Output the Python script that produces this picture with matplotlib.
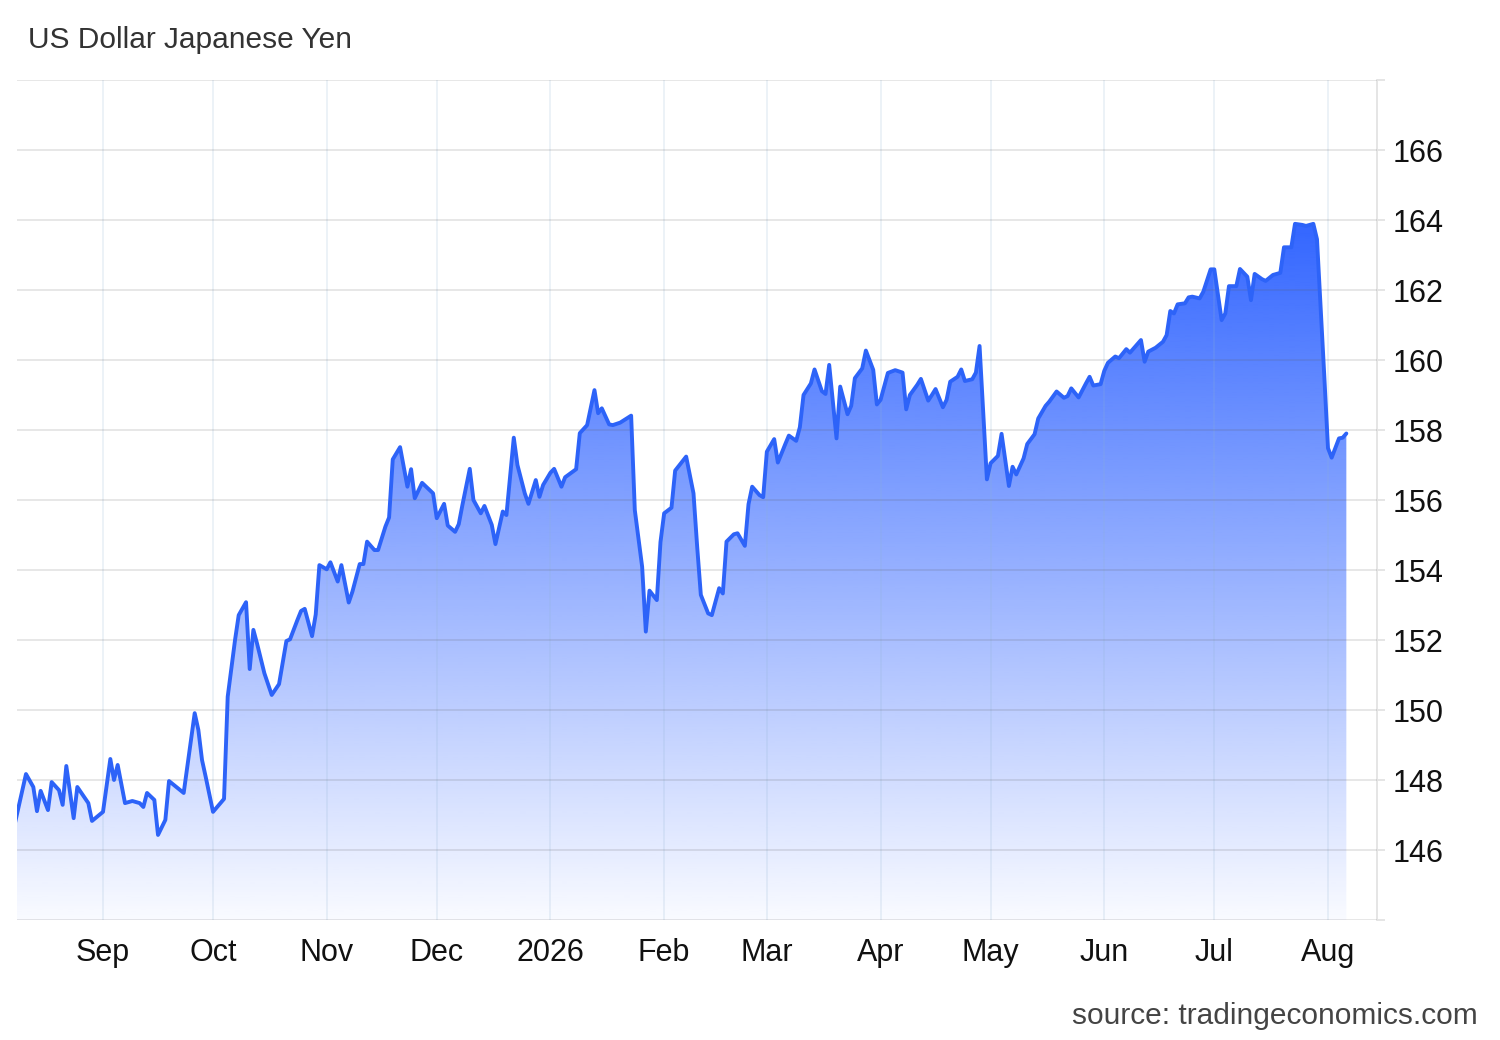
import matplotlib
matplotlib.use("Agg")
import matplotlib.pyplot as plt
import matplotlib.dates as mdates
import numpy as np
import pandas as pd
from matplotlib.ticker import FixedLocator, FuncFormatter

plt.rcParams["font.family"] = ["Liberation Sans", "DejaVu Sans"]

TITLE = "US Dollar Japanese Yen"
SOURCE = "source: tradingeconomics.com"

# USD/JPY (approximate daily closes)
dates = [
    "2025-08-08", "2025-08-11", "2025-08-13", "2025-08-14", "2025-08-15", "2025-08-17",
    "2025-08-18", "2025-08-20", "2025-08-21", "2025-08-22", "2025-08-24", "2025-08-25",
    "2025-08-27", "2025-08-28", "2025-08-29",
    "2025-09-01", "2025-09-03", "2025-09-04", "2025-09-05", "2025-09-07", "2025-09-09",
    "2025-09-11", "2025-09-12", "2025-09-13", "2025-09-15", "2025-09-16", "2025-09-18",
    "2025-09-19", "2025-09-21", "2025-09-23", "2025-09-26", "2025-09-27", "2025-09-28",
    "2025-09-29",
    "2025-10-01", "2025-10-04", "2025-10-05", "2025-10-07", "2025-10-08", "2025-10-10",
    "2025-10-11", "2025-10-12", "2025-10-13", "2025-10-15", "2025-10-17", "2025-10-19",
    "2025-10-21", "2025-10-22", "2025-10-24", "2025-10-25", "2025-10-26", "2025-10-28",
    "2025-10-29", "2025-10-30",
    "2025-11-01", "2025-11-02", "2025-11-04", "2025-11-05", "2025-11-07", "2025-11-08",
    "2025-11-10", "2025-11-11", "2025-11-12", "2025-11-14", "2025-11-15", "2025-11-17",
    "2025-11-18", "2025-11-19", "2025-11-21", "2025-11-23", "2025-11-24", "2025-11-25",
    "2025-11-27", "2025-11-30",
    "2025-12-01", "2025-12-03", "2025-12-04", "2025-12-06", "2025-12-07", "2025-12-08",
    "2025-12-10", "2025-12-11", "2025-12-13", "2025-12-14", "2025-12-16", "2025-12-17",
    "2025-12-19", "2025-12-20", "2025-12-22", "2025-12-23", "2025-12-25", "2025-12-26",
    "2025-12-28", "2025-12-29", "2025-12-30",
    "2026-01-01", "2026-01-02", "2026-01-04", "2026-01-05", "2026-01-08", "2026-01-09",
    "2026-01-11", "2026-01-13", "2026-01-14", "2026-01-15", "2026-01-17", "2026-01-18",
    "2026-01-20", "2026-01-23", "2026-01-24", "2026-01-26", "2026-01-27", "2026-01-28",
    "2026-01-30", "2026-01-31",
    "2026-02-01", "2026-02-03", "2026-02-04", "2026-02-07", "2026-02-09", "2026-02-10",
    "2026-02-11", "2026-02-13", "2026-02-14", "2026-02-16", "2026-02-17", "2026-02-18",
    "2026-02-20", "2026-02-21", "2026-02-23", "2026-02-24", "2026-02-25", "2026-02-27",
    "2026-02-28",
    "2026-03-01", "2026-03-03", "2026-03-04", "2026-03-06", "2026-03-07", "2026-03-09",
    "2026-03-10", "2026-03-11", "2026-03-13", "2026-03-14", "2026-03-16", "2026-03-17",
    "2026-03-18", "2026-03-20", "2026-03-21", "2026-03-23", "2026-03-24", "2026-03-25",
    "2026-03-27", "2026-03-28", "2026-03-30", "2026-03-31",
    "2026-04-01", "2026-04-03", "2026-04-05", "2026-04-07", "2026-04-08", "2026-04-09",
    "2026-04-11", "2026-04-12", "2026-04-14", "2026-04-15", "2026-04-16", "2026-04-18",
    "2026-04-19", "2026-04-20", "2026-04-22", "2026-04-23", "2026-04-24", "2026-04-26",
    "2026-04-27", "2026-04-28", "2026-04-30",
    "2026-05-01", "2026-05-03", "2026-05-04", "2026-05-06", "2026-05-07", "2026-05-08",
    "2026-05-10", "2026-05-11", "2026-05-13", "2026-05-14", "2026-05-16", "2026-05-17",
    "2026-05-19", "2026-05-21", "2026-05-22", "2026-05-23", "2026-05-25", "2026-05-27",
    "2026-05-28", "2026-05-29", "2026-05-31",
    "2026-06-01", "2026-06-02", "2026-06-04", "2026-06-05", "2026-06-07", "2026-06-08",
    "2026-06-11", "2026-06-12", "2026-06-13", "2026-06-15", "2026-06-17", "2026-06-18",
    "2026-06-19", "2026-06-20", "2026-06-21", "2026-06-23", "2026-06-24", "2026-06-25",
    "2026-06-27", "2026-06-28", "2026-06-30",
    "2026-07-01", "2026-07-03", "2026-07-04", "2026-07-05", "2026-07-07", "2026-07-08",
    "2026-07-10", "2026-07-11", "2026-07-12", "2026-07-14", "2026-07-15", "2026-07-17",
    "2026-07-19", "2026-07-20", "2026-07-22", "2026-07-23", "2026-07-25", "2026-07-26",
    "2026-07-28", "2026-07-29", "2026-07-31",
    "2026-08-01", "2026-08-02", "2026-08-04", "2026-08-05", "2026-08-06",
]

prices = [
    146.77, 148.17, 147.80, 147.11, 147.69, 147.14,
    147.94, 147.71, 147.29, 148.40, 146.91, 147.80,
    147.49, 147.34, 146.83,
    147.09, 148.60, 148.00, 148.43, 147.34, 147.40,
    147.34, 147.23, 147.63, 147.43, 146.43, 146.86,
    147.97, 147.80, 147.63, 149.91, 149.43, 148.57,
    148.09,
    147.09, 147.46, 150.38, 152.00, 152.71, 153.08,
    151.17, 152.29, 151.90, 151.05, 150.43, 150.74,
    151.97, 152.02, 152.57, 152.83, 152.89, 152.11,
    152.73, 154.14,
    154.02, 154.22, 153.67, 154.14, 153.07, 153.38,
    154.17, 154.17, 154.81, 154.57, 154.57, 155.24,
    155.50, 157.16, 157.51, 156.38, 156.88, 156.05,
    156.49, 156.19,
    155.48, 155.89, 155.27, 155.09, 155.31, 155.86,
    156.89, 156.00, 155.62, 155.83, 155.29, 154.74,
    155.67, 155.57, 157.78, 157.00, 156.19, 155.89,
    156.57, 156.09, 156.43,
    156.78, 156.89, 156.38, 156.65, 156.88, 157.91,
    158.14, 159.14, 158.48, 158.62, 158.16, 158.14,
    158.21, 158.41, 155.71, 154.09, 152.24, 153.41,
    153.14, 154.80,
    155.62, 155.78, 156.84, 157.24, 156.19, 154.67,
    153.29, 152.76, 152.71, 153.48, 153.33, 154.81,
    155.02, 155.05, 154.69, 155.88, 156.38, 156.14,
    156.08,
    157.38, 157.74, 157.07, 157.59, 157.84, 157.69,
    158.08, 159.00, 159.33, 159.73, 159.11, 159.03,
    159.86, 157.76, 159.24, 158.45, 158.69, 159.48,
    159.76, 160.27, 159.72, 158.73,
    158.86, 159.63, 159.71, 159.64, 158.59, 159.00,
    159.29, 159.46, 158.84, 159.00, 159.17, 158.65,
    158.86, 159.38, 159.52, 159.73, 159.40, 159.45,
    159.64, 160.40, 156.59,
    157.05, 157.26, 157.89, 156.40, 156.95, 156.73,
    157.19, 157.60, 157.88, 158.33, 158.69, 158.81,
    159.10, 158.92, 158.97, 159.19, 158.93, 159.33,
    159.52, 159.27, 159.31,
    159.69, 159.92, 160.10, 160.05, 160.31, 160.21,
    160.57, 159.95, 160.24, 160.35, 160.52, 160.71,
    161.40, 161.33, 161.59, 161.62, 161.79, 161.81,
    161.76, 161.95, 162.59,
    162.59, 161.14, 161.33, 162.11, 162.11, 162.60,
    162.38, 161.71, 162.46, 162.31, 162.26, 162.43,
    162.49, 163.22, 163.22, 163.89, 163.86, 163.83,
    163.89, 163.45, 159.52,
    157.48, 157.21, 157.76, 157.78, 157.90,
]

y_ticks = list(range(144, 170, 2))
y_labelled = list(range(146, 168, 2))

LINE_COLOR = "#2d63f8"
FILL_TOP = np.array([0x33, 0x66, 0xff]) / 255.0

x = mdates.date2num(pd.to_datetime(dates))
y = np.array(prices)

fig = plt.figure(figsize=(15, 10.4), dpi=100)
ax = fig.add_axes([17 / 1500, 1 - 920 / 1040, (1377 - 17) / 1500, (920 - 80) / 1040])

sep1 = mdates.date2num(pd.Timestamp("2025-09-01"))
aug1 = mdates.date2num(pd.Timestamp("2026-08-01"))
px_per_day = (1328 - 103) / (aug1 - sep1)
xlim = (sep1 - (103 - 17) / px_per_day, aug1 + (1377 - 1328) / px_per_day)

# gradient area under the line
ymin, ymax = 144, y.max()
n = 256
grad = np.ones((n, 1, 4))
grad[..., :3] = FILL_TOP
grad[..., 3] = np.linspace(1.0, 0.03, n)[:, None]
area = ax.fill_between(x, y, ymin, color="none", lw=0)
img = ax.imshow(grad, aspect="auto", extent=[x[0], x[-1], ymin, ymax],
                origin="upper", zorder=1, interpolation="bilinear")
img.set_clip_path(area.get_paths()[0], transform=ax.transData)

ax.plot(x, y, color=LINE_COLOR, lw=2.8, zorder=3,
        solid_joinstyle="round", solid_capstyle="round")

ax.set_xlim(*xlim)
ax.set_ylim(144, 168)

# axes styling
ax.set_axisbelow(False)
for side in ("left", "top", "bottom"):
    ax.spines[side].set_visible(False)
ax.spines["right"].set_color("#e3e3e3")
ax.spines["right"].set_linewidth(1.3)

ax.yaxis.tick_right()
ax.yaxis.set_major_locator(FixedLocator(y_ticks))
ax.yaxis.set_major_formatter(FuncFormatter(
    lambda v, p: f"{int(round(v))}" if int(round(v)) in y_labelled else ""))
ax.tick_params(axis="y", length=6, width=1.3, color="#e3e3e3", pad=5,
               labelsize=22, labelcolor="#111111")
ax.grid(axis="y", color="#5a5a5a", alpha=0.16, lw=1.3)

ax.xaxis.set_major_locator(mdates.MonthLocator())
ax.xaxis.set_major_formatter(FuncFormatter(
    lambda v, p: mdates.num2date(v).strftime("%Y") if mdates.num2date(v).month == 1
    else mdates.num2date(v).strftime("%b")))
ax.tick_params(axis="x", length=0, pad=13, labelsize=22, labelcolor="#111111")
ax.grid(axis="x", color="#8fb3d0", alpha=0.18, lw=1.3)

fig.text(28 / 1500, 1 - 40 / 1040, TITLE, fontsize=21.5, color="#333333",
         ha="left", va="center")
fig.text(1478 / 1500, 1 - 1016 / 1040, SOURCE, fontsize=21.5, color="#444444",
         ha="right", va="center")

fig.savefig("out.png", dpi=100)
